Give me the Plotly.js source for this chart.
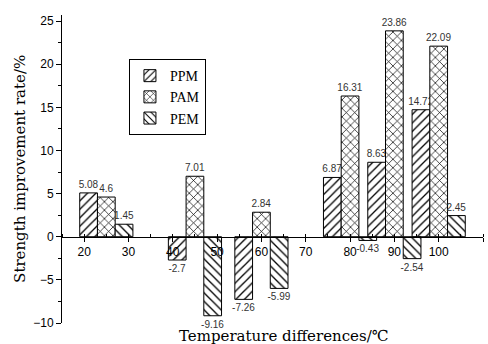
<!DOCTYPE html>
<html><head><meta charset="utf-8">
<script src="https://cdn.plot.ly/plotly-3.0.1.min.js"></script>
<style>html,body{margin:0;padding:0;background:#fff}</style>
</head><body>
<div id="chart" style="width:488px;height:344px"></div>
<script>
const temps = [25, 45, 60, 80, 90, 100];
const ppm = [5.08, -2.7, -7.26, 6.87, 8.63, 14.72];
const pam = [4.6, 7.01, 2.84, 16.31, 23.86, 22.09];
const pem = [1.45, -9.16, -5.99, -0.43, -2.54, 2.45];
const seriesNames = ['PPM', 'PAM', 'PEM'];
const yRange = [-10, 25.7];
const xRange = [15, 110];

function mk(name, vals, shape, offset) {
  return {
    type: 'bar', name: name, x: temps, y: vals,
    offset: offset, width: 4,
    text: vals.map(v => String(v)), textposition: 'outside', constraintext: 'none',
    textfont: {family: 'Liberation Sans, Arial', size: 10, color: '#333'},
    cliponaxis: false,
    marker: {color: 'white', line: {color: 'black', width: 1},
      pattern: {shape: shape, fgcolor: 'black', bgcolor: 'white', size: 6, solidity: 0.22, fillmode: 'replace'}}
  };
}
const data = [
  mk(seriesNames[0], ppm, '/', -6),
  mk(seriesNames[1], pam, 'x', -2),
  mk(seriesNames[2], pem, '\\', 2)
];
const titleFont = {family: 'DejaVu Serif, Noto Sans CJK SC', size: 15, color: '#000'};
const layout = {
  width: 488, height: 344,
  margin: {l: 62, r: 5, t: 15, b: 21},
  paper_bgcolor: 'white', plot_bgcolor: 'white',
  barmode: 'overlay', showlegend: true,
  font: {family: 'Liberation Sans, Arial', size: 12, color: '#000'},
  xaxis: {range: xRange, anchor: 'free', position: (0 - yRange[0]) / (yRange[1] - yRange[0]),
    showline: true, linecolor: 'black', linewidth: 1, showgrid: false, zeroline: false,
    tickmode: 'linear', tick0: 20, dtick: 10, ticks: 'outside', ticklen: 4, tickcolor: 'black',
    minor: {dtick: 5, ticks: 'inside', ticklen: 3, tickcolor: 'black'},
    tickfont: {size: 12, family: 'Liberation Sans, Arial'}},
  yaxis: {range: yRange, showline: true, linecolor: 'black', linewidth: 1, showgrid: false, zeroline: false,
    tickmode: 'linear', tick0: -10, dtick: 5, ticks: 'outside', ticklen: 5, tickcolor: 'black',
    minor: {dtick: 2.5, ticks: 'outside', ticklen: 3, tickcolor: 'black'},
    tickfont: {size: 12, family: 'Liberation Sans, Arial'}},
  legend: {x: 0.159, y: 0.857, xanchor: 'left', yanchor: 'top', bordercolor: 'black', borderwidth: 1,
    bgcolor: 'white', font: {family: 'Liberation Serif, serif', size: 14}, tracegroupgap: 0},
  annotations: [
    {text: 'Strength improvement rate/%', xref: 'paper', yref: 'paper', x: -0.1, xanchor: 'center', y: 0.5, textangle: -90,
      showarrow: false, font: titleFont},
    {text: 'Temperature differences/℃', xref: 'paper', yref: 'paper', x: 0.527, xanchor: 'center', y: -0.077, yanchor: 'bottom',
      showarrow: false, font: titleFont}
  ]
};
Plotly.newPlot('chart', data, layout, {staticPlot: true});
</script>
</body></html>
